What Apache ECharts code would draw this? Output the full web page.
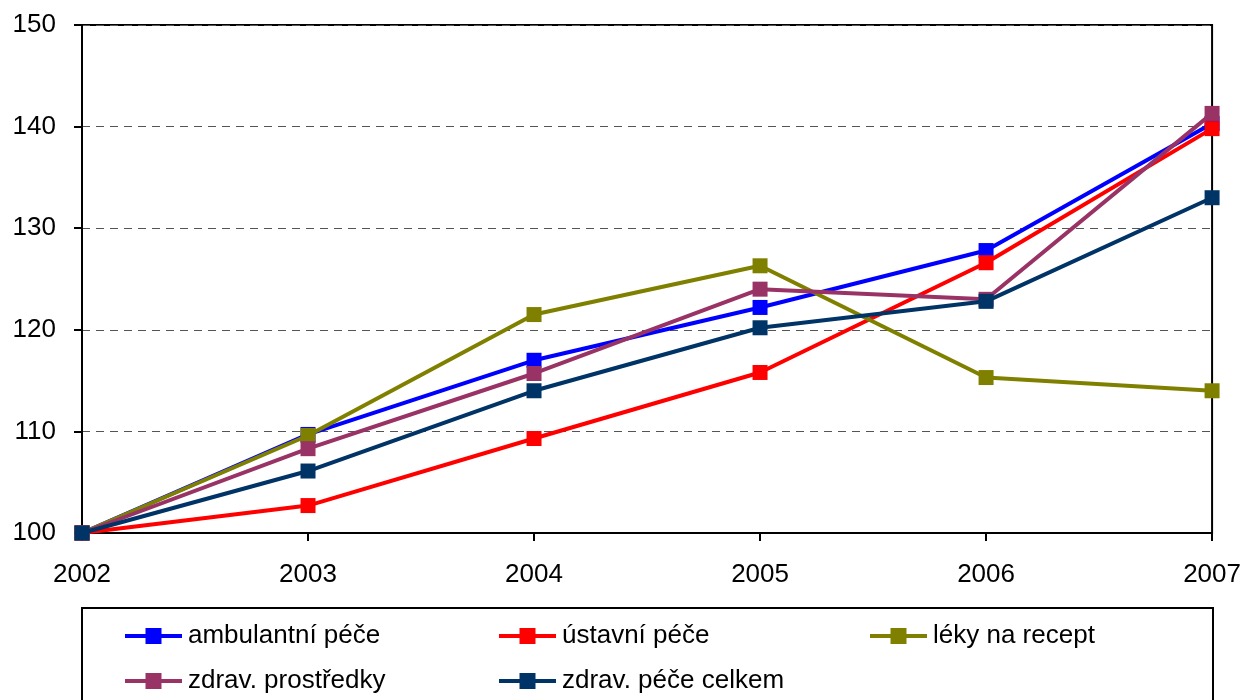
<!DOCTYPE html>
<html><head><meta charset="utf-8">
<script src="https://cdn.jsdelivr.net/npm/echarts@6/dist/echarts.min.js"></script>
<style>html,body{margin:0;padding:0;background:#fff}#c{width:1244px;height:700px}</style>
</head><body><div id="c"></div>
<script>
const years = ['2002','2003','2004','2005','2006','2007'];
const ambulantni = [100, 109.7, 117.0, 122.2, 127.8, 140.3];
const ustavni = [100, 102.7, 109.3, 115.8, 126.6, 139.8];
const leky = [100, 109.6, 121.5, 126.3, 115.3, 114.0];
const prostredky = [100, 108.3, 115.7, 124.0, 123.0, 141.3];
const celkem = [100, 106.1, 114.0, 120.2, 122.8, 133.0];
const names = ['ambulantní péče','ústavní péče','léky na recept','zdrav. prostředky','zdrav. péče celkem'];
const colors = ['#0000FF','#FF0000','#808000','#993366','#003366'];
const datas = [ambulantni, ustavni, leky, prostredky, celkem];
const yTicks = [100,110,120,130,140,150];

const font = 'Arial, "Liberation Sans", sans-serif';
const chart = echarts.init(document.getElementById('c'));
const legendPos = [[123,623],[497,623],[868,623],[123,668],[497,668]];
chart.setOption({
  animation:false,
  grid:{left:82,right:31,top:25,bottom:167,show:true,borderColor:'#000',borderWidth:2},
  xAxis:{type:'category',data:years,boundaryGap:false,
    axisLine:{lineStyle:{color:'#000',width:2}},
    axisTick:{show:true,inside:false,length:8,lineStyle:{color:'#000',width:2},alignWithLabel:true},
    axisLabel:{color:'#000',fontSize:26,fontFamily:font,margin:29},
    splitLine:{show:false}},
  yAxis:{type:'value',min:yTicks[0],max:yTicks[yTicks.length-1],interval:10,
    axisLine:{show:true,lineStyle:{color:'#000',width:2}},
    axisTick:{show:true,length:8,lineStyle:{color:'#000',width:2}},
    axisLabel:{color:'#000',fontSize:26,fontFamily:font,margin:26},
    splitLine:{show:true,lineStyle:{color:'#555',type:[8,6],width:1}}},
  legend: names.map((n,i)=>({data:[n],left:legendPos[i][0],top:legendPos[i][1],
    padding:0,itemWidth:57,itemHeight:20,itemGap:0,
    lineStyle:{width:4},
    textStyle:{color:'#000',fontSize:26,fontFamily:font,padding:[0,0,0,1]}})),
  graphic:[{type:'rect',shape:{x:82,y:608,width:1131,height:100},
    style:{fill:'none',stroke:'#000',lineWidth:2},silent:true}],
  series: names.map((n,i)=>({name:n,type:'line',data:datas[i],
    symbol:'rect',symbolSize:15,showAllSymbol:true,
    lineStyle:{color:colors[i],width:4},
    itemStyle:{color:colors[i]},z:2+i}))
});
</script></body></html>
